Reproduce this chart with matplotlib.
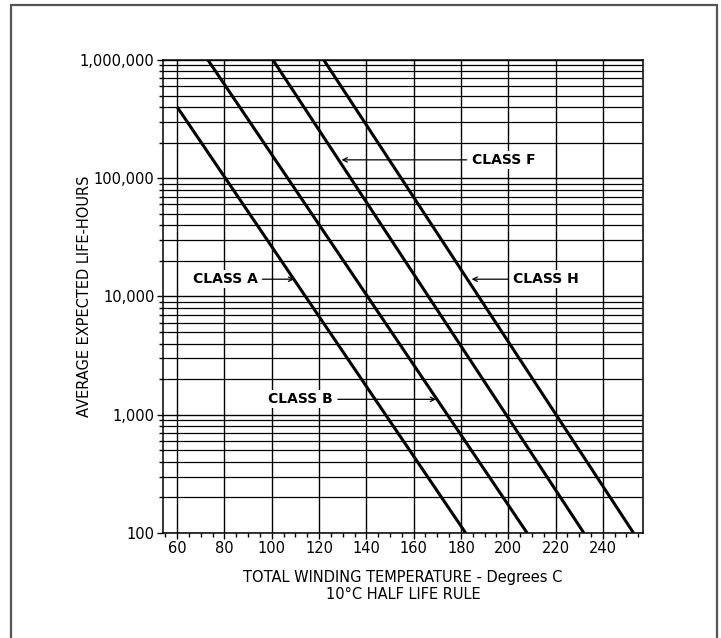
import numpy as np
import matplotlib.pyplot as plt
from matplotlib.patches import Rectangle
from matplotlib.ticker import FixedLocator, MultipleLocator, LogLocator, NullFormatter

# insulation classes, life line end points (temperature C, life hours)
classes = ["CLASS A", "CLASS B", "CLASS F", "CLASS H"]
class_a_temp = [60, 182]
class_a_hours = [400000, 100]
class_b_temp = [73, 208]
class_b_hours = [1000000, 100]
class_f_temp = [100.5, 232]
class_f_hours = [1000000, 100]
class_h_temp = [122, 253]
class_h_hours = [1000000, 100]

x_ticks = [60, 80, 100, 120, 140, 160, 180, 200, 220, 240]
y_ticks = [100, 1000, 10000, 100000, 1000000]
y_tick_labels = ["100", "1,000", "10,000", "100,000", "1,000,000"]

# label text position, arrow tip position
label_pos = {"CLASS A": (66.5, 14000), "CLASS B": (98.5, 1350),
             "CLASS F": (184.5, 143000), "CLASS H": (202, 14000)}
arrow_tip = {"CLASS A": (109.5, 14000), "CLASS B": (169.5, 1350),
             "CLASS F": (129.5, 143000), "CLASS H": (184.5, 14000)}

fig = plt.figure(figsize=(7.21, 6.38), dpi=100)
ax = fig.add_axes([0.2261, 0.1646, 0.6657, 0.7414])

ax.set_yscale("log")
ax.set_xlim(54, 257)
ax.set_ylim(100, 1000000)

# grid: every 20 C, and every log minor step
ax.xaxis.set_major_locator(FixedLocator(x_ticks))
ax.xaxis.set_minor_locator(MultipleLocator(5))
ax.yaxis.set_major_locator(FixedLocator(y_ticks))
ax.yaxis.set_minor_locator(LogLocator(base=10, subs=np.arange(2, 10)))
ax.yaxis.set_minor_formatter(NullFormatter())
ax.set_yticklabels(y_tick_labels)
ax.grid(True, which="major", axis="both", color="black", lw=1.0)
ax.grid(True, which="minor", axis="y", color="black", lw=0.9)
ax.set_axisbelow(True)

ax.tick_params(axis="both", which="major", direction="out", length=4, width=1,
               labelsize=10.5, pad=2, colors="black")
ax.tick_params(axis="both", which="minor", direction="out", length=3, width=1)
for s in ax.spines.values():
    s.set_linewidth(1.1)
    s.set_color("black")

for t, h in [(class_a_temp, class_a_hours), (class_b_temp, class_b_hours),
             (class_f_temp, class_f_hours), (class_h_temp, class_h_hours)]:
    ax.plot(t, h, color="black", lw=2.2, solid_capstyle="butt", zorder=3)

for name in classes:
    ax.annotate(name, xy=arrow_tip[name], xytext=label_pos[name],
                ha="left", va="center", fontsize=10, fontweight="bold",
                bbox=dict(boxstyle="square,pad=0.15", fc="white", ec="none"),
                arrowprops=dict(arrowstyle="->", lw=0.9, color="black",
                                shrinkA=2, shrinkB=0, mutation_scale=8),
                zorder=4)

ax.set_ylabel("AVERAGE EXPECTED LIFE-HOURS", fontsize=10.5)
ax.yaxis.set_label_coords(-0.148, 0.5)
ax.set_xlabel("TOTAL WINDING TEMPERATURE - Degrees C\n10°C HALF LIFE RULE",
              fontsize=10.5, labelpad=10, linespacing=1.15)

# page frame
fig.patches.append(Rectangle((11 / 721, -0.05), (717 - 11) / 721, 1.05 - 5 / 638,
                             transform=fig.transFigure, fill=False,
                             ec="#555555", lw=1.6))

fig.savefig("out.png", dpi=100)
